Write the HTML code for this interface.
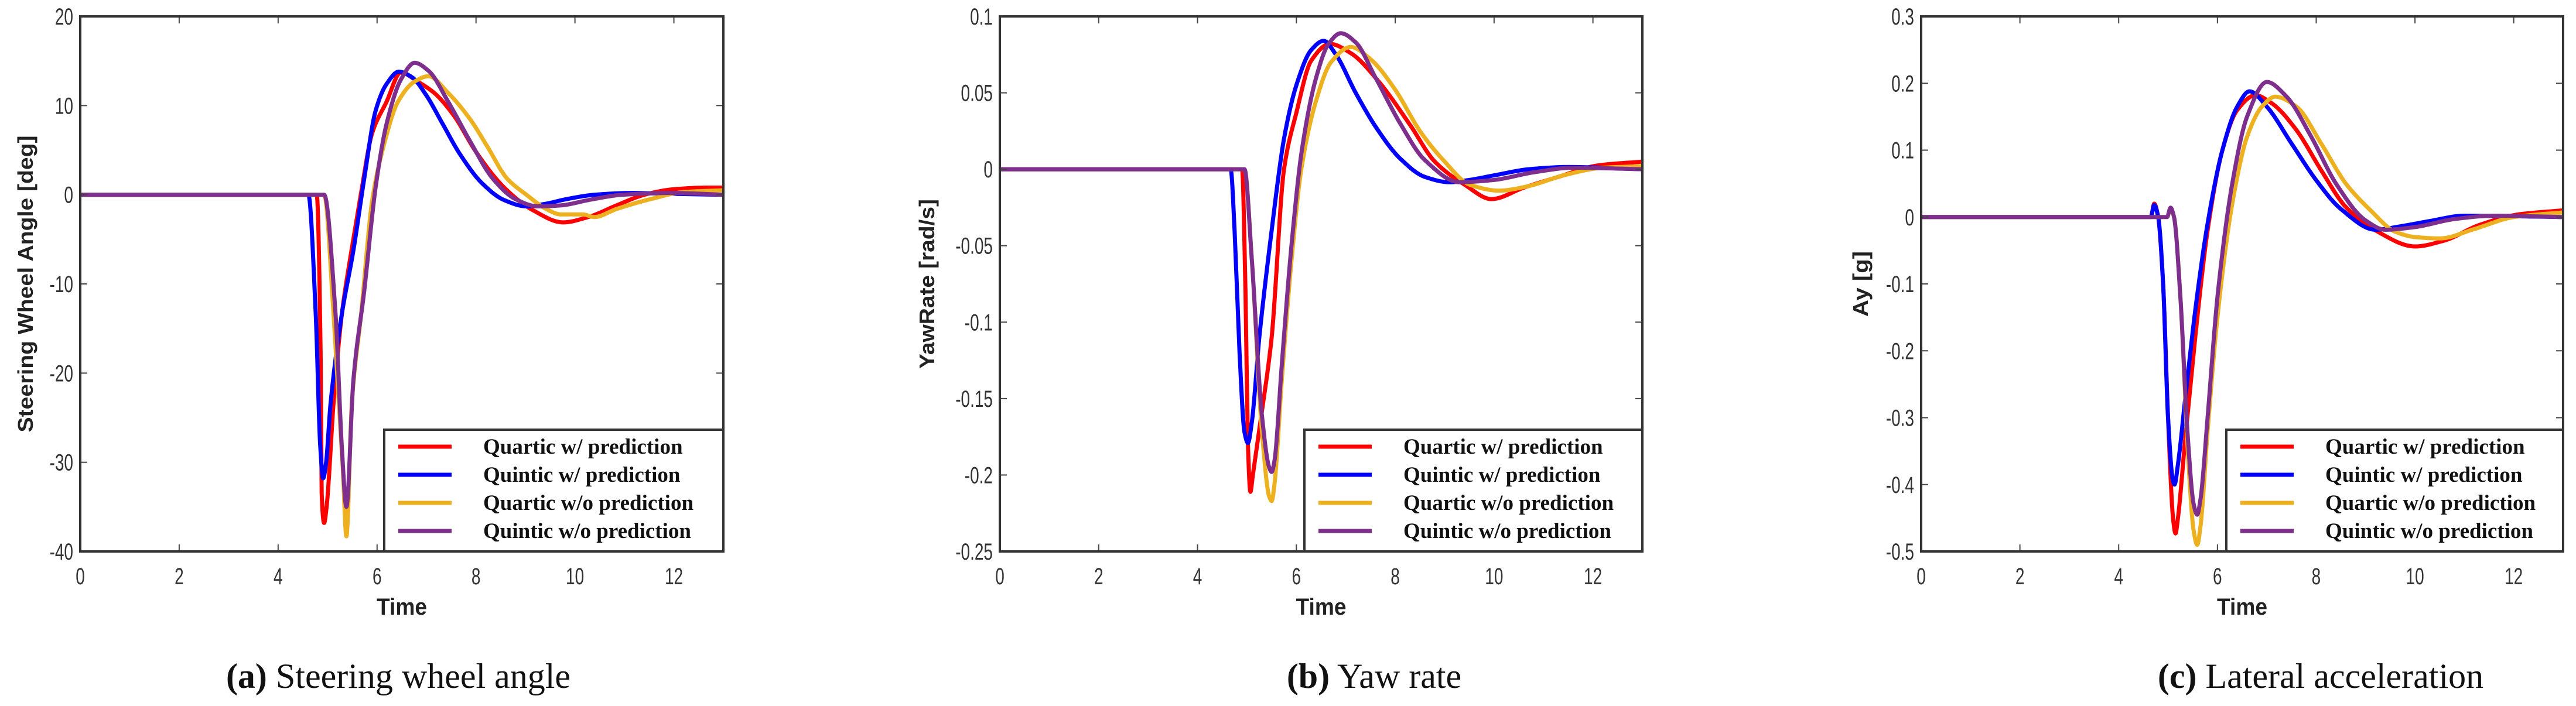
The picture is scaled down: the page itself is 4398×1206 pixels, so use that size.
<!DOCTYPE html>
<html><head><meta charset="utf-8">
<style>
html,body{margin:0;padding:0;background:#fff;}
svg{display:block;}
</style></head>
<body>
<svg id="fig" width="4398" height="1206" viewBox="0 0 4398 1206" xmlns="http://www.w3.org/2000/svg"></svg>
<script>
// ---------- DATA ----------
const xTicks = [0,2,4,6,8,10,12];
const seriesNames = ["Quartic w/ prediction","Quintic w/ prediction","Quartic w/o prediction","Quintic w/o prediction"];
const seriesColors = ["#ff0000","#0000ff","#edb120","#7e2f8e"];

// Panel (a) steering wheel angle [deg]
const aYTicks = [20,10,0,-10,-20,-30,-40];
const aRedT = [0,4.78,4.86,4.88,4.93,4.98,5.12,5.29,5.46,5.68,5.9,6.19,6.48,6.82,7.16,7.55,8.0,8.57,9.14,9.76,10.27,10.84,11.4,11.97,12.65,13];
const aRedV = [0,0,-18.4,-33.5,-36.8,-35,-23.4,-13.3,-7,0.3,6.9,10.4,13.7,12.7,11.4,8.9,4.8,0.8,-1.7,-3.1,-2.5,-1.2,0,0.6,0.8,0.8];
const aBlueT = [0,4.61,4.76,4.85,4.91,4.97,5.06,5.29,5.52,5.74,5.97,6.19,6.44,6.7,6.99,7.33,7.67,8.12,8.57,9.02,9.42,9.82,10.39,11.18,11.97,13];
const aBlueV = [0,0,-13.3,-28,-31.8,-30,-23.4,-13.3,-6.3,1.8,9.4,12.4,13.8,13.2,11.2,7.9,4.6,1.3,-0.6,-1.3,-1.0,-0.5,0,0.2,0.1,0];
const aYelT = [0,4.93,5.12,5.31,5.38,5.49,5.68,5.9,6.13,6.42,6.76,7.04,7.44,7.89,8.23,8.63,9.02,9.42,9.71,10.16,10.39,10.84,11.52,12.2,13];
const aYelV = [0,0,-13.3,-31,-38.3,-23.4,-13.3,-0.7,5.4,10.4,12.7,13.3,11.4,8.4,5.4,1.8,0,-1.6,-2.2,-2.2,-2.5,-1.6,-0.5,0.3,0.5];
const aPurT = [0,4.93,5.16,5.29,5.38,5.52,5.74,5.97,6.19,6.48,6.76,7.04,7.44,7.89,8.34,8.8,9.25,9.71,10.27,10.95,11.97,13];
const aPurV = [0,0,-13.3,-28.5,-35,-20.9,-10.8,0.8,7.9,12.9,14.8,13.9,10.4,5.9,1.8,-0.5,-1.3,-1.2,-0.6,0,0.2,0];

// Panel (b) yaw rate [rad/s]
const bYTicks = [0.1,0.05,0,-0.05,-0.1,-0.15,-0.2,-0.25];
const bRedT = [0,4.9,4.97,5.02,5.07,5.12,5.3,5.5,5.75,6.0,6.3,6.68,7.1,7.7,8.3,8.8,9.4,9.95,10.6,11.3,12.1,13];
const bRedV = [0,0,-0.08,-0.18,-0.211,-0.2,-0.159,-0.11,0,0.037,0.071,0.082,0.076,0.056,0.029,0.005,-0.01,-0.0195,-0.012,-0.005,0.0025,0.005];
const bBlueT = [0,4.67,4.75,4.85,4.95,5.02,5.1,5.25,5.5,5.75,6.0,6.3,6.55,6.8,7.2,7.6,8.1,8.6,9.1,9.5,10,10.7,11.5,13];
const bBlueV = [0,0,-0.04,-0.12,-0.172,-0.179,-0.165,-0.11,-0.04,0.02,0.055,0.078,0.084,0.075,0.05,0.028,0.007,-0.005,-0.0085,-0.007,-0.004,0,0.0015,0];
const bYelT = [0,4.95,5.1,5.3,5.45,5.5,5.56,5.7,5.9,6.1,6.4,6.7,7.1,7.5,8.0,8.5,9.0,9.5,10.1,10.7,11.4,12.2,13];
const bYelV = [0,0,-0.06,-0.17,-0.214,-0.217,-0.205,-0.14,-0.06,0.0,0.045,0.07,0.080,0.072,0.052,0.025,0.005,-0.01,-0.014,-0.011,-0.004,0.001,0.002];
const bPurT = [0,4.95,5.1,5.3,5.45,5.5,5.56,5.7,5.9,6.1,6.4,6.65,6.9,7.2,7.6,8.1,8.6,9.3,10,10.8,11.6,13];
const bPurV = [0,0,-0.06,-0.16,-0.195,-0.198,-0.19,-0.13,-0.05,0.01,0.06,0.082,0.089,0.083,0.06,0.03,0.006,-0.0085,-0.007,-0.002,0.001,0];

// Panel (c) lateral acceleration [g]
const cYTicks = [0.3,0.2,0.1,0,-0.1,-0.2,-0.3,-0.4,-0.5];
const cRedT = [0,4.65,4.72,4.8,4.9,5.0,5.1,5.15,5.2,5.35,5.55,5.8,6.1,6.4,6.77,7.1,7.6,8.1,8.6,9.2,10,10.6,11.3,12.1,13];
const cRedV = [0,0,0.02,0,-0.1,-0.3,-0.45,-0.473,-0.45,-0.33,-0.18,-0.02,0.1,0.16,0.182,0.17,0.13,0.07,0.015,-0.02,-0.044,-0.035,-0.012,0.004,0.01];
const cBlueT = [0,4.65,4.72,4.8,4.9,5.0,5.1,5.13,5.2,5.35,5.55,5.8,6.1,6.4,6.65,7.0,7.5,8.0,8.5,9.2,9.7,10.3,11,13];
const cBlueV = [0,0,0.018,0,-0.1,-0.3,-0.395,-0.40,-0.37,-0.27,-0.14,-0.01,0.1,0.165,0.188,0.165,0.11,0.055,0.012,-0.019,-0.014,-0.006,0.002,0];
const cYelT = [0,4.98,5.05,5.12,5.25,5.4,5.52,5.59,5.66,5.8,6.0,6.3,6.6,6.9,7.17,7.6,8.1,8.6,9.1,9.6,10,10.5,11.2,12.0,13];
const cYelV = [0,0,0.012,0,-0.12,-0.35,-0.47,-0.49,-0.46,-0.32,-0.15,0.02,0.12,0.165,0.18,0.165,0.11,0.05,0.01,-0.022,-0.03,-0.032,-0.018,0,0.007];
const cPurT = [0,4.98,5.05,5.12,5.25,5.4,5.52,5.59,5.66,5.8,6.0,6.3,6.6,7.0,7.4,7.9,8.4,9.0,9.4,10,10.8,11.6,13];
const cPurV = [0,0,0.014,0,-0.12,-0.33,-0.43,-0.445,-0.42,-0.3,-0.12,0.05,0.15,0.202,0.18,0.12,0.05,-0.005,-0.019,-0.015,-0.003,0.002,0];

// ---------- RENDER ----------
const NS = "http://www.w3.org/2000/svg";
const svg = document.getElementById("fig");
function mk(tag, attrs, parent){
  const e = document.createElementNS(NS, tag);
  for (const k in attrs) e.setAttribute(k, attrs[k]);
  (parent||svg).appendChild(e);
  return e;
}
function monoPath(xs, ys){
  const n = xs.length;
  if (n < 2) return "";
  const d = [], m = [];
  for (let i=0;i<n-1;i++) d.push((ys[i+1]-ys[i])/(xs[i+1]-xs[i]||1e-9));
  m.push(d[0]);
  for (let i=1;i<n-1;i++){
    if (d[i-1]*d[i] <= 0) m.push(0);
    else m.push(3*(xs[i+1]-xs[i-1]) / ((2*xs[i+1]-xs[i]-xs[i-1])/d[i-1] + (xs[i+1]+xs[i]-2*xs[i-1])/d[i]));
  }
  m.push(d[n-2]);
  let p = "M"+xs[0].toFixed(1)+","+ys[0].toFixed(1);
  for (let i=0;i<n-1;i++){
    const h = (xs[i+1]-xs[i])/3;
    p += " C"+(xs[i]+h).toFixed(1)+","+(ys[i]+m[i]*h).toFixed(1)+" "+(xs[i+1]-h).toFixed(1)+","+(ys[i+1]-m[i+1]*h).toFixed(1)+" "+xs[i+1].toFixed(1)+","+ys[i+1].toFixed(1);
  }
  return p;
}

const panels = [
  {key:"a", L:137, R:1235, legL:656, yTicks:aYTicks, ymin:-40, ymax:20, ylabel:"Steering Wheel Angle [deg]", ylabX:43, ylabLen:507, fmt:v=>String(v),
   series:[[aRedT,aRedV],[aBlueT,aBlueV],[aYelT,aYelV],[aPurT,aPurV]], capB:"(a)", cap:" Steering  wheel  angle", capX:680},
  {key:"b", L:1707, R:2804, legL:2227, yTicks:bYTicks, ymin:-0.25, ymax:0.1, ylabel:"YawRate [rad/s]", ylabX:1582, ylabLen:290, fmt:v=>String(v),
   series:[[bRedT,bRedV],[bBlueT,bBlueV],[bYelT,bYelV],[bPurT,bPurV]], capB:"(b)", cap:" Yaw rate", capX:2346},
  {key:"c", L:3280, R:4376, legL:3801, yTicks:cYTicks, ymin:-0.5, ymax:0.3, ylabel:"Ay [g]", ylabX:3176, ylabLen:112, fmt:v=>String(v),
   series:[[cRedT,cRedV],[cBlueT,cBlueV],[cYelT,cYelV],[cPurT,cPurV]], capB:"(c)", cap:" Lateral acceleration", capX:3962}
];
const T = 28, B = 942, XMAX = 13;

panels.forEach(p => {
  const g = mk("g", {});
  
  
  const xs = t => p.L + (t/XMAX)*(p.R-p.L);
  const ys = v => B - (v-p.ymin)/(p.ymax-p.ymin)*(B-T);

  const clipId = "clip"+p.key;
  const cp = mk("clipPath", {id:clipId}, g);
  mk("rect", {x:p.L, y:T, width:p.R-p.L, height:B-T}, cp);
  const sg = mk("g", {"clip-path":"url(#"+clipId+")"}, g);
  p.series.forEach((s, i) => {
    const px = s[0].map(xs), py = s[1].map(ys);
    const path = mk("path", {d:monoPath(px, py), fill:"none", stroke:seriesColors[i], "stroke-width":7, "stroke-linejoin":"round", "stroke-linecap":"round"}, sg);
    
    
  });

  xTicks.forEach(t => {
    const x = xs(t);
    mk("line", {x1:x, y1:B, x2:x, y2:B-12, stroke:"#444", "stroke-width":2}, g);
    mk("line", {x1:x, y1:T, x2:x, y2:T+12, stroke:"#444", "stroke-width":2}, g);
    const tl = mk("text", {transform:"translate("+x+","+(B+56)+") scale(0.8,1.15)", "text-anchor":"middle", "font-family":"Liberation Sans, sans-serif", "font-size":35, fill:"#333"}, g);
    tl.textContent = String(t);
    
    
  });
  p.yTicks.forEach(v => {
    const y = ys(v);
    mk("line", {x1:p.L, y1:y, x2:p.L+12, y2:y, stroke:"#444", "stroke-width":2}, g);
    mk("line", {x1:p.R, y1:y, x2:p.R-12, y2:y, stroke:"#444", "stroke-width":2}, g);
    const tl = mk("text", {transform:"translate("+(p.L-12)+","+(y+14)+") scale(0.8,1.15)", "text-anchor":"end", "font-family":"Liberation Sans, sans-serif", "font-size":35, fill:"#333"}, g);
    tl.textContent = p.fmt(v);
    
    
  });

  const fr = mk("rect", {x:p.L, y:T, width:p.R-p.L, height:B-T, fill:"none", stroke:"#333", "stroke-width":4}, g);
  
  

  const lg = mk("g", {}, g);
  
  
  mk("rect", {x:p.legL, y:734, width:p.R-p.legL, height:B-734, fill:"#fff", stroke:"#333", "stroke-width":4}, lg);
  seriesNames.forEach((nm, i) => {
    const cy = 763 + i*48;
    const ln = mk("line", {x1:p.legL+24, y1:cy, x2:p.legL+115, y2:cy, stroke:seriesColors[i], "stroke-width":7}, lg);
    
    
    const tx = mk("text", {x:p.legL+169, y:cy+12, "font-family":"Liberation Serif, serif", "font-weight":"bold", "font-size":37, fill:"#111"}, lg);
    tx.textContent = nm;
    
    
  });

  const xt = mk("text", {x:(p.L+p.R)/2, y:1050, "text-anchor":"middle", "font-family":"Liberation Sans, sans-serif", "font-weight":"bold", "font-size":40, fill:"#222", textLength:86, lengthAdjust:"spacingAndGlyphs"}, g);
  xt.textContent = "Time";
  
  
  const yt = mk("text", {transform:"translate("+(p.ylabX+13)+",485) rotate(-90)", "text-anchor":"middle", "font-family":"Liberation Sans, sans-serif", "font-weight":"bold", "font-size":36, fill:"#222", textLength:p.ylabLen, lengthAdjust:"spacingAndGlyphs"}, g);
  yt.textContent = p.ylabel;
  
  

  const cap = mk("text", {x:p.capX, y:1175, "text-anchor":"middle", "font-family":"Liberation Serif, serif", "font-size":60, fill:"#111"}, g);
  const tb = mk("tspan", {"font-weight":"bold"}, cap);
  tb.textContent = p.capB;
  const tn = mk("tspan", {}, cap);
  tn.textContent = p.cap;
  
  
});
</script>
</body></html>
